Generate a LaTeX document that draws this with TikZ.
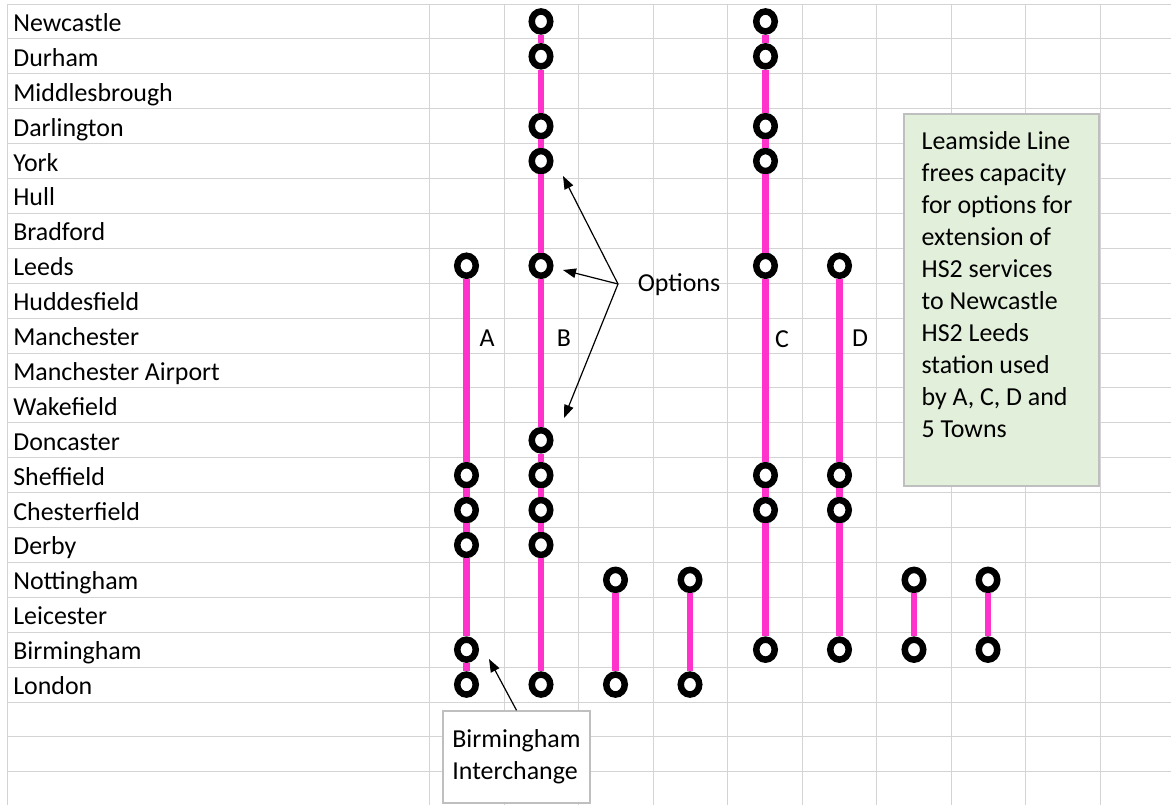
\documentclass[tikz,border=0pt]{standalone}
\usepackage{fontspec}
\setmainfont{Carlito}
\usetikzlibrary{arrows.meta,shapes.geometric}

\definecolor{cellgray}{HTML}{D4D4D4}
\definecolor{hspink}{HTML}{FF33CC}
\definecolor{notegreen}{HTML}{E2EFDA}
\definecolor{edgegray}{HTML}{BFBFBF}

\begin{document}
\begin{tikzpicture}[x=0.02cm, y=-0.02cm,
		every node/.style={font=\fontsize{14.74}{18.2}\selectfont},
		cell/.style={draw=cellgray, line width=0.02cm},
		stop/.style={draw, ellipse, fill=white, line width=0.13cm, minimum width=0.37cm, minimum height=0.4cm, inner sep=0pt},
		route/.style={draw=hspink, line width=0.13cm},
		station/.style={anchor=base west, inner sep=0pt},
		pointer/.style={-{Triangle[length=0.26cm, width=0.19cm]}, line width=0.024cm},
		notebox/.style={draw=edgegray, line width=0.03cm, fill=notegreen, minimum width=3.9cm, minimum height=7.44cm},
		callout/.style={draw=edgegray, line width=0.03cm, fill=white, minimum width=2.94cm, minimum height=1.84cm, align=left}]
	\path[use as bounding box, fill=white] (0,0) rectangle (1171,805);

	% spreadsheet cells
	\foreach \r in {0,...,23}
		\draw[cell] (7,{4+34.9*\r}) -- (1171,{4+34.9*\r});
	\foreach \c in {7,429.5,504,578.5,653,727.5,802,876.5,951,1025.5,1100}
		\draw[cell] (\c,4) -- (\c,805);

	% station names
	\foreach \name [count=\i from 0] in {Newcastle,Durham,Middlesbrough,Darlington,York,Hull,Bradford,Leeds,Huddesfield,Manchester,Manchester Airport,Wakefield,Doncaster,Sheffield,Chesterfield,Derby,Nottingham,Leicester,Birmingham,London}
		\node[station] (st\i) at (13,{4+34.9*(\i+1)-7.5}) {\name};

	% stops
	\foreach \s in {7,13,14,15,18,19}
		\node[stop] (a\s) at (466.5,{4+34.9*(\s+0.5)}) {};
	\foreach \s in {0,1,3,4,7,12,13,14,15,19}
		\node[stop] (b\s) at (541,{4+34.9*(\s+0.5)}) {};
	\foreach \s in {16,19}
		\node[stop] (p\s) at (615.5,{4+34.9*(\s+0.5)}) {};
	\foreach \s in {16,19}
		\node[stop] (q\s) at (690,{4+34.9*(\s+0.5)}) {};
	\foreach \s in {0,1,3,4,7,13,14,18}
		\node[stop] (c\s) at (765.5,{4+34.9*(\s+0.5)}) {};
	\foreach \s in {7,13,14,18}
		\node[stop] (d\s) at (839.5,{4+34.9*(\s+0.5)}) {};
	\foreach \s in {16,18}
		\node[stop] (r\s) at (914,{4+34.9*(\s+0.5)}) {};
	\foreach \s in {16,18}
		\node[stop] (s\s) at (988,{4+34.9*(\s+0.5)}) {};

	% routes
	\draw[route] (a7) -- (a13) -- (a14) -- (a15) -- (a18) -- (a19);
	\draw[route] (b0) -- (b1) -- (b3) -- (b4) -- (b7) -- (b12) -- (b13) -- (b14) -- (b15) -- (b19);
	\draw[route] (p16) -- (p19);
	\draw[route] (q16) -- (q19);
	\draw[route] (c0) -- (c1) -- (c3) -- (c4) -- (c7) -- (c13) -- (c14) -- (c18);
	\draw[route] (d7) -- (d13) -- (d14) -- (d18);
	\draw[route] (r16) -- (r18);
	\draw[route] (s16) -- (s18);

	\node (la) at (487,338) {A};
	\node (lb) at (564,338) {B};
	\node (lc) at (782,339) {C};
	\node (ld) at (860,338) {D};

	% options arrows
	\node (opts) at (679,285) {Options};
	\coordinate (fork) at (618,284);
	\coordinate (tipyork) at (563,176);
	\coordinate (tipleeds) at (563,270);
	\coordinate (tipwake) at (564,418);
	\draw[pointer] (fork) -- (tipyork);
	\draw[pointer] (fork) -- (tipleeds);
	\draw[pointer] (fork) -- (tipwake);

	% notes
	\node[notebox] (note) at (1001.5,300) {};
	\node[anchor=north west, align=left, inner sep=0pt] (notetxt) at ([shift={(18,18)}]note.north west)
		{Leamside Line\\frees capacity\\for options for\\extension of\\HS2 services\\to Newcastle\\HS2 Leeds\\station used\\by A, C, D and\\5 Towns};

	\node[callout] (bhx) at (516.5,757) {Birmingham\\Interchange};
	\coordinate (tipbhx) at (489,659);
	\draw[pointer] (bhx.north) -- (tipbhx);
\end{tikzpicture}
\end{document}
